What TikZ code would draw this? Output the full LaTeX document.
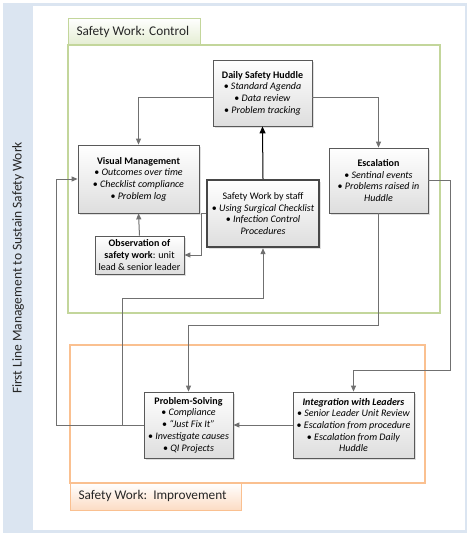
\documentclass[tikz,border=0pt]{standalone}
\usepackage{fontspec}
\setmainfont{Carlito}
\usetikzlibrary{shapes,arrows.meta,positioning,shadows}

\definecolor{framebl}{HTML}{DBE5F1}
\definecolor{ctrlgrn}{HTML}{C3D69B}
\definecolor{ctrltab}{HTML}{E4EDD2}
\definecolor{improrg}{HTML}{FAC090}
\definecolor{imprtab}{HTML}{FCDCC4}
\definecolor{boxline}{HTML}{595959}
\definecolor{connln}{HTML}{707070}

\begin{document}
\begin{tikzpicture}[x=1pt,y=-1pt,
  box/.style={draw=boxline, line width=0.8pt, top color=white, bottom color=black!13,
    align=center, font=\fontsize{10}{11.7}\selectfont, inner sep=1pt,
    drop shadow={opacity=0.25,shadow xshift=1.5pt,shadow yshift=-1.5pt}},
  conn/.style={draw=connln, line width=1pt, -{Triangle[length=6pt,width=5pt]}}]
\useasboundingbox (0,0) rectangle (472,538);

% outer frame and side title
\fill[framebl] (3,3) rectangle (467,533);
\fill[white] (33,6) rectangle (465,530);
\node[rotate=90, font=\fontsize{13.5}{15}\selectfont, text=black!85] (title) at (18,268) {First Line Management to Sustain Safety Work};

% control area
\draw[ctrlgrn, line width=0.6pt, top color=white, bottom color=ctrltab] (68,18) rectangle (200,45);
\node[anchor=west, font=\fontsize{13.3}{15}\selectfont, text=black!85] (ctrl) at (73,32) {Safety Work: Control};
\draw[ctrlgrn, line width=2pt] (68,45) rectangle (440,313);

% improvement area
\draw[improrg, line width=2pt] (70,345) rectangle (425,483);
\draw[improrg, line width=0.6pt, top color=white, bottom color=imprtab] (70,483) rectangle (241,510);
\node[anchor=west, font=\fontsize{13.3}{15}\selectfont, text=black!85] (impr) at (75,496) {Safety Work:\ \ Improvement};

% boxes
\node[box, minimum width=99, minimum height=66] (huddle) at (262.5,93)
  {\textbf{Daily Safety Huddle}\\ • \textit{Standard Agenda}\\ • \textit{Data review}\\ • \textit{Problem tracking}};
\node[box, minimum width=121, minimum height=68] (vm) at (138.5,179)
  {\textbf{Visual Management}\\ • \textit{Outcomes over time}\\ • \textit{Checklist compliance}\\ • \textit{Problem log}};
\node[box, minimum width=99, minimum height=65] (esc) at (378.5,180.5)
  {\textbf{Escalation}\\ • \textit{Sentinal events}\\ • \textit{Problems raised in}\\ \textit{Huddle}};
\node[box, line width=2.4pt, draw=black!72, minimum width=112, minimum height=67] (staff) at (263,213.5)
  {Safety Work by staff\\ • \textit{Using Surgical Checklist}\\ • \textit{Infection Control}\\ \textit{Procedures}};
\node[box, minimum width=89, minimum height=38] (obs) at (139.5,255)
  {\textbf{Observation of}\\ \textbf{safety work}: unit\\ lead \& senior leader};
\node[box, minimum width=89, minimum height=66] (ps) at (188.5,425)
  {\textbf{Problem-Solving}\\ • \textit{Compliance}\\ • \textit{“Just Fix It”}\\ • \textit{Investigate causes}\\ • \textit{QI Projects}};
\node[box, minimum width=121, minimum height=66] (lead) at (353.5,425)
  {\textbf{\textit{Integration with Leaders}}\\ • \textit{Senior Leader Unit Review}\\ • \textit{Escalation from procedure}\\ • \textit{Escalation from Daily}\\ \textit{Huddle}};

% connectors
\draw[conn] ([yshift=-4pt]huddle.west) -| (vm.north);
\draw[conn] ([yshift=-4pt]huddle.east) -| (esc.north);
\draw[conn, draw=black, -{Triangle[length=7pt,width=6pt]}] (staff.north) -- (huddle.south);
\draw[conn] (obs.north) -- (vm.south);
\draw[conn] (staff.west) -- ++(-4,0) |- (obs.east);
\draw[conn] (esc.east) -- ++(22,0) -- ++(0,190) -| (lead.north);
\draw[conn] (esc.south) -- ++(0,112) -| (ps.north);
\draw[conn] (lead.west) -- (ps.east);
\draw[conn] (ps.west) -- ++(-87,0) |- (vm.west);
\draw[conn] (ps.west) -- ++(-21,0) -- ++(0,-127) -| (staff.south);
\end{tikzpicture}
\end{document}
